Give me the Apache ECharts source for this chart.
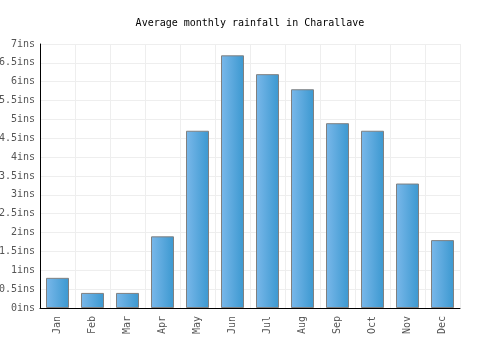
<!DOCTYPE html>
<html>
<head>
<meta charset="utf-8">
<script src="https://cdn.jsdelivr.net/npm/echarts@6/dist/echarts.min.js"></script>
<style>
  html, body { margin: 0; padding: 0; background: #fff; }
  #chart { width: 500px; height: 350px; }
</style>
</head>
<body>
<div id="chart"></div>
<script>
const months = ['Jan', 'Feb', 'Mar', 'Apr', 'May', 'Jun', 'Jul', 'Aug', 'Sep', 'Oct', 'Nov', 'Dec']
const rainfall = [0.8, 0.4, 0.4, 1.9, 4.7, 6.7, 6.2, 5.8, 4.9, 4.7, 3.3, 1.8]

const font = 'DejaVu Sans Mono'
const chart = echarts.init(document.getElementById('chart'))
chart.setOption({
  animation: false,
  title: {
    text: 'Average monthly rainfall in Charallave',
    left: 'center',
    top: 13,
    textStyle: { fontFamily: font, fontSize: 10, fontWeight: 'normal', color: '#000' }
  },
  grid: { left: 40, right: 40, top: 44, bottom: 42, outerBoundsMode: 'none' },
  xAxis: {
    type: 'category',
    data: months,
    axisLine: { lineStyle: { color: '#000', width: 1 } },
    axisTick: { show: false },
    splitLine: { show: true, lineStyle: { color: '#eeeeee' } },
    axisLabel: { rotate: 90, fontFamily: font, fontSize: 10, color: '#555', margin: 8 }
  },
  yAxis: {
    type: 'value',
    min: 0,
    max: 7,
    interval: 0.5,
    axisLine: { show: true, lineStyle: { color: '#000', width: 1 } },
    axisTick: { show: false },
    splitLine: { lineStyle: { color: '#eeeeee' } },
    axisLabel: { fontFamily: font, fontSize: 10, color: '#555', margin: 5, formatter: v => v + 'ins' }
  },
  series: [{
    type: 'bar',
    data: rainfall,
    barWidth: 23,
    itemStyle: {
      borderColor: '#808080',
      borderWidth: 1,
      color: new echarts.graphic.LinearGradient(0, 0, 1, 0, [
        { offset: 0, color: '#7ab8ea' },
        { offset: 1, color: '#3b98d0' }
      ])
    }
  }]
})
</script>
</body>
</html>
